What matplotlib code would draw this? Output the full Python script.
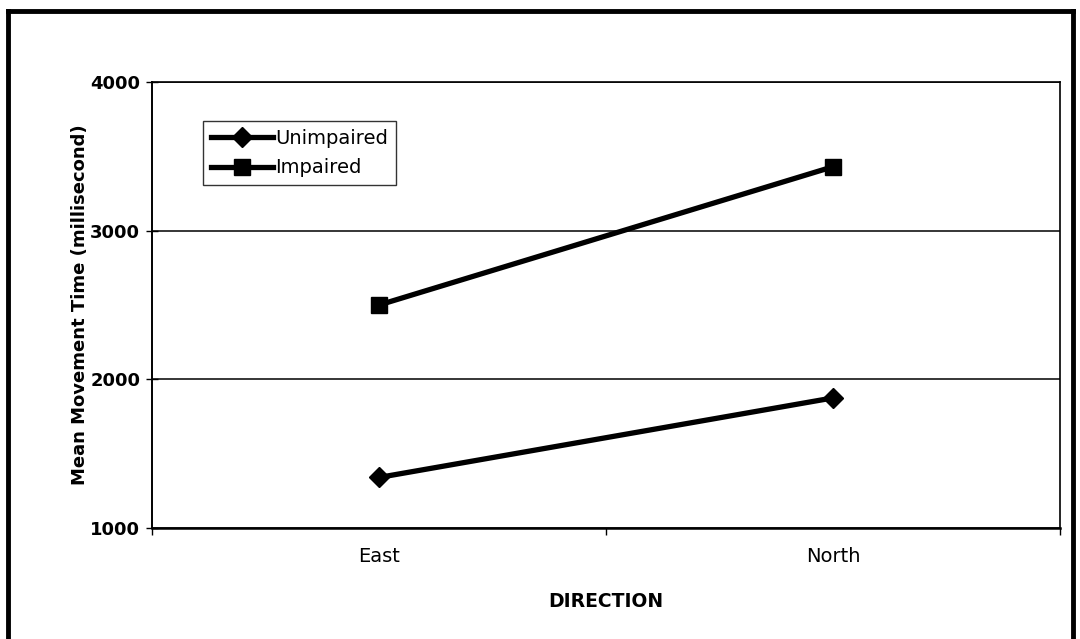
import matplotlib
matplotlib.use("Agg")
import matplotlib.pyplot as plt
from matplotlib.lines import Line2D

plt.rcParams['font.family'] = ['DejaVu Sans']

categories = ["East", "North"]
unimpaired = [1340, 1875]
impaired = [2500, 3430]
series_names = ["Unimpaired", "Impaired"]
yticks = [1000, 2000, 3000, 4000]

W, H = 1080, 639
fig = plt.figure(figsize=(W / 100, H / 100), dpi=100)
ax = fig.add_axes([152 / W, 1 - 528 / H, (1060 - 152) / W, (528 - 82) / H])

x = [0, 1]
ax.plot(x, unimpaired, color='black', lw=3.8, marker='D', markersize=10,
        label=series_names[0], zorder=3)
ax.plot(x, impaired, color='black', lw=3.8, marker='s', markersize=12,
        label=series_names[1], zorder=3)

ax.set_xlim(-0.5, 1.5)
ax.set_ylim(1000, 4000)
ax.set_yticks(yticks)
ax.set_yticklabels([str(v) for v in yticks], fontsize=13, fontweight='bold')
ax.yaxis.grid(True, color='black', lw=1.1)
ax.set_axisbelow(True)
ax.tick_params(axis='y', direction='inout', length=9, width=1, pad=4)

ax.set_xticks(x)
ax.set_xticklabels(categories, fontsize=14)
ax.tick_params(axis='x', length=0, pad=14)
ax.set_xticks([-0.5, 0.5, 1.5], minor=True)
ax.tick_params(axis='x', which='minor', direction='out', length=5, width=1)

for s in ax.spines.values():
    s.set_color('black')
    s.set_linewidth(1.2)
ax.spines['bottom'].set_linewidth(1.8)
ax.spines['left'].set_linewidth(1.4)

ax.set_xlabel("DIRECTION", fontsize=13.5, fontweight='bold')
ax.xaxis.set_label_coords(0.5, -(592 - 528) / 446, transform=ax.transAxes)
ax.set_ylabel("Mean Movement Time (millisecond)", fontsize=13, fontweight='bold')
ax.yaxis.set_label_coords(-(152 - 89) / 908, 0.5, transform=ax.transAxes)

leg = ax.legend(loc='upper left', bbox_to_anchor=((203 - 152) / (1060 - 152), 1 - (121 - 82) / (528 - 82)),
                frameon=True, fancybox=False, fontsize=14, handlelength=3.2,
                handletextpad=0.1, borderpad=0.4, labelspacing=0.55, borderaxespad=0)
leg.get_frame().set_edgecolor('black')
leg.get_frame().set_linewidth(1.0)

# outer frame (left, top, right)
fig.add_artist(Line2D([8 / W, 8 / W], [0, 1 - 11 / H], color='black', lw=3.5, transform=fig.transFigure))
fig.add_artist(Line2D([8 / W, 1073 / W], [1 - 11 / H, 1 - 11 / H], color='black', lw=3.5, transform=fig.transFigure))
fig.add_artist(Line2D([1073 / W, 1073 / W], [0, 1 - 11 / H], color='black', lw=3.5, transform=fig.transFigure))

fig.savefig("out.png", dpi=100)
